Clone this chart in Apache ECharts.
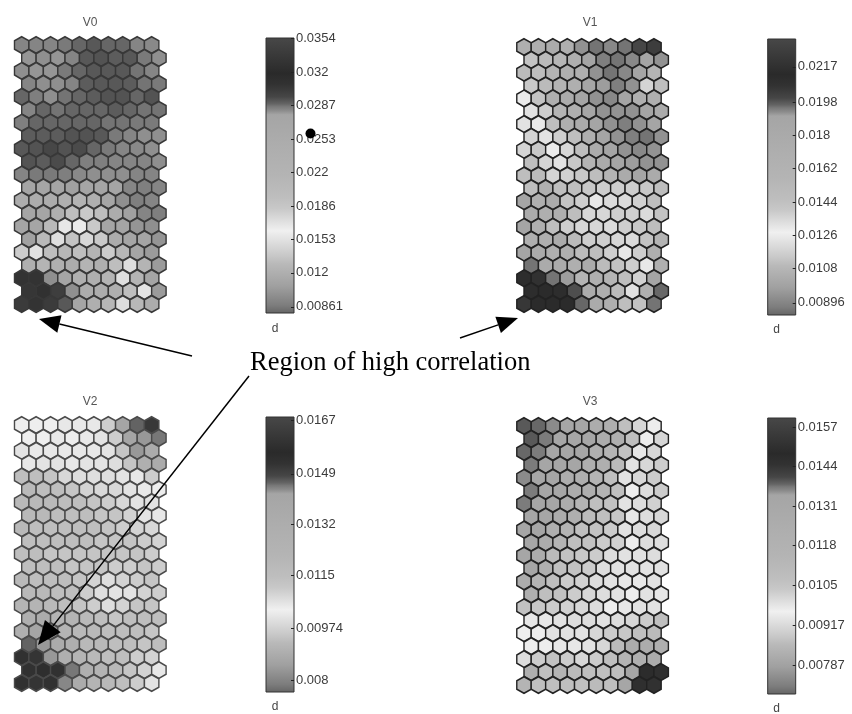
<!DOCTYPE html>
<html><head><meta charset="utf-8">
<style>html,body{margin:0;padding:0;background:#fff}#c{width:852px;height:714px}</style>
<script src="https://cdn.jsdelivr.net/npm/echarts@6/dist/echarts.min.js"></script>
</head><body><div id="c"></div>
<script>
// Cell values of each map, in units of d x 10^-4, row by row (21 rows of 10)
var v0 = [
283,283,283,285,288,291,288,288,283,282,
280,281,280,283,291,292,290,291,285,281,
281,280,280,285,288,291,291,291,286,283,
283,281,281,283,290,291,291,290,286,285,
288,284,281,286,288,290,292,292,288,292,
283,288,286,288,288,288,290,288,286,286,
284,288,288,288,288,288,286,286,285,285,
290,290,290,292,292,291,285,283,281,281,
291,292,295,292,294,288,285,283,282,281,
292,290,294,288,284,284,283,283,283,281,
283,285,285,284,282,281,281,281,283,283,
277,277,277,278,277,277,277,283,284,283,
250,250,248,240,220,240,275,281,284,283,
277,277,240,195,184,195,250,278,283,284,
277,277,205,167,165,184,277,277,280,281,
278,205,172,190,176,184,250,277,277,280,
182,170,195,210,195,217,182,210,277,279,
240,217,240,250,217,240,195,173,217,279,
307,307,281,277,240,240,217,172,217,277,
305,308,300,281,250,250,240,195,169,279,
302,307,302,291,277,240,210,173,210,250];
var v1 = [
169,169,177,169,192,195,193,195,200,203,
143,150,155,169,190,194,195,193,190,192,
150,146,157,169,169,192,195,193,190,157,
140,150,157,169,190,191,194,192,136,146,
129,143,169,177,190,192,193,190,169,169,
132,138,157,169,190,192,192,192,190,177,
132,130,146,169,177,190,192,194,192,190,
136,132,138,146,169,190,192,194,195,192,
136,140,129,135,146,177,190,192,193,192,
146,136,132,140,157,177,190,191,192,192,
146,150,136,137,140,146,157,177,190,177,
146,169,146,146,140,138,138,138,140,146,
190,169,177,143,138,130,134,134,137,146,
177,169,169,146,135,135,138,137,134,143,
190,169,146,138,135,135,134,138,140,146,
169,169,177,150,138,138,135,134,143,157,
190,177,169,169,150,146,138,130,138,169,
195,177,177,169,177,150,143,138,130,169,
210,207,195,191,157,169,157,146,137,190,
210,213,210,199,177,169,150,132,169,196,
205,213,213,213,196,177,169,146,143,195];
var v2 = [
104,104,104,105,105,105,110,142,146,151,
104,104,105,104,105,106,110,142,143,145,
106,105,105,105,105,105,106,112,143,134,
105,106,106,105,106,106,107,112,129,134,
115,115,112,108,107,107,107,106,105,110,
118,115,115,112,109,108,108,106,105,104,
118,118,118,115,115,112,110,108,106,106,
118,118,115,115,115,112,112,109,106,105,
118,115,115,115,115,115,112,110,109,108,
115,115,115,115,115,112,112,112,110,109,
115,115,112,112,112,112,112,112,112,110,
115,115,115,112,112,112,110,110,112,110,
118,115,115,115,112,109,107,109,110,112,
118,118,115,115,110,107,106,106,109,110,
122,122,118,115,112,110,107,109,112,112,
129,134,122,122,118,115,112,115,115,115,
129,142,143,122,118,118,115,115,115,112,
146,143,134,129,118,118,115,115,112,115,
153,152,143,129,122,118,115,115,110,109,
153,154,153,145,129,122,118,112,109,105,
153,152,153,144,134,122,118,115,110,106];
var v3 = [
139,138,136,133,133,126,122,107,101,97,
139,137,133,133,133,126,122,107,97,101,
138,137,133,133,133,122,115,106,98,101,
137,133,133,133,122,122,110,99,101,103,
136,133,133,126,122,115,107,99,101,103,
137,133,133,126,122,115,107,97,100,103,
137,133,133,126,115,107,106,99,100,102,
133,133,126,122,110,107,104,98,100,101,
133,133,122,115,107,106,103,99,100,101,
133,126,115,107,106,103,102,97,100,100,
133,126,110,106,104,103,100,99,99,100,
133,122,107,106,103,100,99,99,99,99,
126,115,107,103,102,100,99,98,98,99,
122,107,106,103,101,100,99,97,99,98,
106,104,103,102,101,100,97,98,99,99,
98,98,99,100,100,99,100,101,103,107,
96,97,99,99,99,101,103,104,107,110,
97,97,98,98,99,101,110,126,126,122,
100,103,106,103,101,103,107,115,122,126,
122,107,115,110,107,107,107,133,149,150,
115,107,107,107,107,110,107,133,150,145];

// Tick labels of the four colour bars
var ticks0 = [0.0354,0.032,0.0287,0.0253,0.022,0.0186,0.0153,0.012,0.00861];
var ticks1 = [0.0217,0.0198,0.018,0.0162,0.0144,0.0126,0.0108,0.00896];
var ticks2 = [0.0167,0.0149,0.0132,0.0115,0.00974,0.008];
var ticks3 = [0.0157,0.0144,0.0131,0.0118,0.0105,0.00917,0.00787];
// Colour-bar ranges
var range0 = [0.008,0.0354], range1 = [0.0083,0.0232], range2 = [0.0076,0.0168], range3 = [0.00692,0.016];
var names = ['V0','V1','V2','V3'];

// Colour map of the bars: [fraction from bottom, grey level]
var cmap = [[0,100],[.03,125],[.1,160],[.18,185],[.21,200],[.3,240],[.33,225],[.38,200],[.42,190],[.5,180],[.58,175],[.72,165],[.735,140],[.75,120],[.76,100],[.785,70],[.83,50],[.87,42],[1,72]];
function grey(g){g=Math.round(g);return 'rgb('+g+','+g+','+g+')';}
function ramp(n){
  var out=[];
  for(var i=0;i<n;i++){
    var t=i/(n-1),k=0;
    while(k<cmap.length-2&&cmap[k+1][0]<t)k++;
    var a=cmap[k],b=cmap[k+1];
    out.push(grey(a[1]+(b[1]-a[1])*(t-a[0])/(b[0]-a[0])));
  }
  return out;
}
var stops=cmap.map(function(s){return {offset:s[0],color:grey(s[1])};});

var layout=[
 {hx:21.7,hy:45,  sx:14.44,sy:12.95,bx:266,  bt:38, bb:313,stroke:'#383838',tx:90, ty:17, dy:323},
 {hx:524, hy:47,  sx:14.44,sy:12.85,bx:767.7,bt:39, bb:315,stroke:'#222222',tx:590,ty:17, dy:324},
 {hx:21.7,hy:425, sx:14.44,sy:12.9, bx:266,  bt:417,bb:692,stroke:'#4a4a4a',tx:90, ty:396,dy:701},
 {hx:524, hy:426, sx:14.44,sy:12.95,bx:767.7,bt:418,bb:694,stroke:'#222222',tx:590,ty:396,dy:703}
];
var values=[v0,v1,v2,v3], ticks=[ticks0,ticks1,ticks2,ticks3], ranges=[range0,range1,range2,range3];
var HEX='path://M0,-2 L1.732,-1 L1.732,1 L0,2 L-1.732,1 L-1.732,-1 Z';
var grids=[],xAxes=[],yAxes=[],series=[],vms=[],titles=[];

names.forEach(function(name,p){
  var L=layout[p],vals=values[p],tk=ticks[p],rg=ranges[p];
  grids.push({left:L.hx,top:L.hy,width:L.sx*9.5,height:L.sy*20,containLabel:false});
  xAxes.push({type:'value',gridIndex:2*p,min:0,max:9.5,show:false});
  yAxes.push({type:'value',gridIndex:2*p,min:0,max:20,inverse:true,show:false});
  var pts=[];
  vals.forEach(function(v,i){
    var r=Math.floor(i/10),c=i%10;
    pts.push([c+(r%2?0.5:0),r,v]);
  });
  vms.push({show:false,type:'continuous',seriesIndex:2*p,dimension:2,min:rg[0]*1e4,max:rg[1]*1e4,
    inRange:{color:ramp(240)}});
  series.push({type:'scatter',name:name,xAxisIndex:2*p,yAxisIndex:2*p,data:pts,clip:false,silent:true,
    symbol:HEX,symbolSize:[L.sx,L.sx*2/Math.sqrt(3)],
    itemStyle:{borderColor:L.stroke,borderWidth:1.5,opacity:1}});
  grids.push({left:L.bx,top:L.bt,width:28,height:L.bb-L.bt});
  xAxes.push({type:'value',gridIndex:2*p+1,min:0,max:1,show:false});
  yAxes.push({type:'value',gridIndex:2*p+1,min:rg[0],max:rg[1],position:'right',z:5,
    splitLine:{show:false},axisLine:{show:false,onZero:false},
    axisTick:{show:true,inside:true,length:3,customValues:tk,lineStyle:{color:'#222',width:1}},
    axisLabel:{show:true,customValues:tk,margin:2,fontFamily:'Liberation Sans',fontSize:13,color:'#3c3c3c',
      formatter:function(v){return String(v);}}});
  series.push({type:'custom',xAxisIndex:2*p+1,yAxisIndex:2*p+1,silent:true,clip:false,z:1,
    data:[[0,rg[0],1,rg[1]]],
    encode:{x:[0,2],y:[1,3]},
    renderItem:function(params,api){
      var a=api.coord([api.value(0),api.value(3)]),b=api.coord([api.value(2),api.value(1)]);
      return {type:'rect',shape:{x:a[0],y:a[1],width:b[0]-a[0],height:b[1]-a[1]},
        style:{fill:{type:'linear',x:0,y:1,x2:0,y2:0,colorStops:stops},stroke:'#333',lineWidth:1}};
    }});
  titles.push({text:name,left:L.tx,top:L.ty,padding:0,textAlign:'center',textStyle:{fontFamily:'Liberation Sans',fontSize:12,fontWeight:'normal',color:'#555'}});
  titles.push({text:'d',left:L.bx+9,top:L.dy,padding:0,textAlign:'center',textStyle:{fontFamily:'Liberation Sans',fontSize:12,fontWeight:'normal',color:'#444'}});
});

function arrow(tail,tip,len,wid){
  var dx=tip[0]-tail[0],dy=tip[1]-tail[1],d=Math.sqrt(dx*dx+dy*dy),ux=dx/d,uy=dy/d;
  var bx=tip[0]-ux*len,by=tip[1]-uy*len,nx=-uy*wid/2,ny=ux*wid/2;
  return [
    {type:'line',z:20,shape:{x1:tail[0],y1:tail[1],x2:bx,y2:by},style:{stroke:'#000',lineWidth:1.5}},
    {type:'polygon',z:20,shape:{points:[tip,[bx+nx,by+ny],[bx-nx,by-ny]]},style:{fill:'#000'}}
  ];
}
var gfx=[].concat(
  arrow([192,356],[39,319],21,18),
  arrow([460,338],[518,318],21,17),
  arrow([249,376],[38,645],24,20),
  [{type:'circle',z:20,shape:{cx:310.5,cy:133.5,r:5},style:{fill:'#000'}},
   {type:'text',z:20,left:250,top:350,style:{text:'Region of high correlation',font:'26.5px "Liberation Serif"',fill:'#000'}}]
);

var chart=echarts.init(document.getElementById('c'),null,{renderer:'canvas'});
chart.setOption({animation:false,backgroundColor:'#fff',title:titles,grid:grids,xAxis:xAxes,yAxis:yAxes,visualMap:vms,series:series,graphic:{elements:gfx}});
</script></body></html>
